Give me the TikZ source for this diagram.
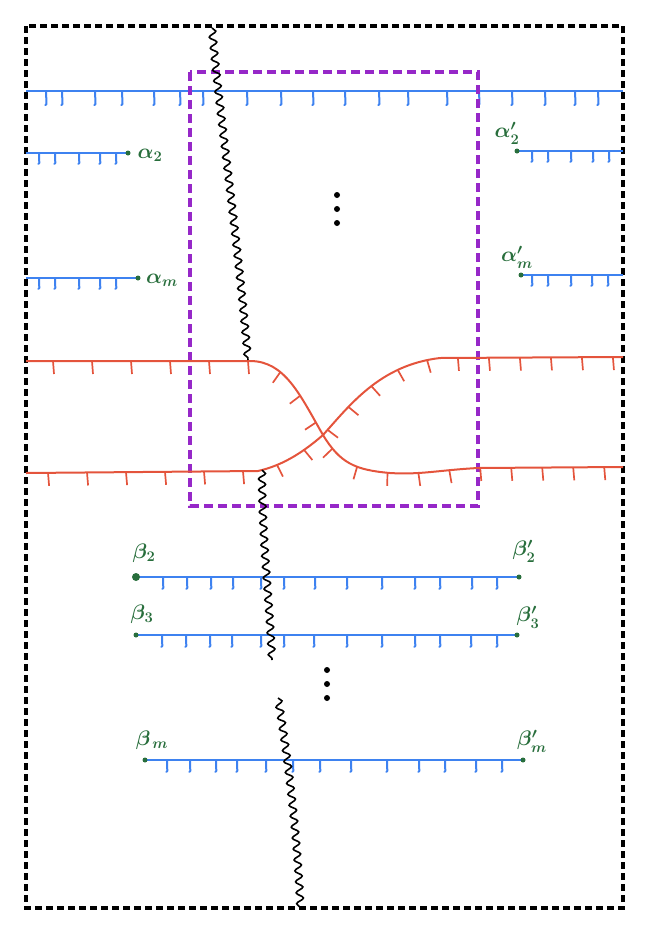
\RequirePackage{fix-cm}
\documentclass[tikz,border=0pt]{standalone}
\usetikzlibrary{decorations.pathmorphing,decorations.markings}
\definecolor{bl}{RGB}{62,130,240}
\definecolor{rd}{RGB}{228,84,60}
\definecolor{pu}{RGB}{150,40,200}
\definecolor{gr}{RGB}{40,110,60}
\begin{document}
\begin{tikzpicture}[x=1pt,y=-1pt,
  bline/.style={draw=bl,line width=2.4pt},
  btick/.style={draw=bl,line width=2pt,line cap=round,line join=round},
  rline/.style={draw=rd,line width=2pt},
  wave/.style={draw=black,line width=1.6pt,decorate,decoration={snake,segment length=11pt,amplitude=3.5pt}},
  lab/.style={text=gr,font=\fontsize{21}{25}\selectfont\boldmath,inner sep=1pt},
  gdot/.style={fill=gr,circle,inner sep=0pt,minimum size=5pt},
  vdot/.style={fill=black,circle,inner sep=0pt,minimum size=6pt},
  rticks/.style 2 args={postaction={decorate,decoration={markings,
     mark=between positions #1 and 222pt step 39pt with {\draw[rd,line width=1.7pt] (0pt,0pt) -- (1pt,-13pt);},
     mark=between positions #2 and -6pt step 31pt with {\draw[rd,line width=1.7pt] (0pt,0pt) -- (1pt,-13pt);}}}}
]
\useasboundingbox (0,0) rectangle (651,929);
% outer frame
\draw[line width=3.5pt,dash pattern=on 7pt off 4pt] (26,26) rectangle (623,908);
% top blue line
\draw[bline] (26,91) -- (623,91);
\foreach \x in {46,62,95,122,154,180,203,247,281,313,345,379,408,447,479,512,545,575,598}
  \draw[btick] (\x,91) -- ++(0.5,13) -- ++(-1.2,1.2);
% alpha lines
\draw[bline] (26,153) -- (128,153);
\foreach \x in {39,55,79,100,116} \draw[btick] (\x,153) -- ++(0.3,10) -- ++(-1,1);
\node[gdot] (a2d) at (128,153) {};
\node[lab] (a2) at (150,155) {$\alpha_2$};
\draw[bline] (26,278) -- (138,278);
\foreach \x in {39,55,79,100,116} \draw[btick] (\x,278) -- ++(0.3,10) -- ++(-1,1);
\node[gdot] (amd) at (138,278) {};
\node[lab] (am) at (162,280) {$\alpha_m$};
\draw[bline] (517,151) -- (623,151);
\foreach \x in {532,548,571,593,609} \draw[btick] (\x,151) -- ++(0.3,10) -- ++(-1,1);
\node[gdot] (a2pd) at (517,151) {};
\node[lab] (a2p) at (507,133) {$\alpha'_2$};
\draw[bline] (521,275) -- (623,275);
\foreach \x in {532,548,571,592,608} \draw[btick] (\x,275) -- ++(0.3,10) -- ++(-1,1);
\node[gdot] (ampd) at (521,275) {};
\node[lab] (amp) at (517,257) {$\alpha'_m$};
% purple box
\draw[pu,line width=3.5pt,dash pattern=on 9pt off 5pt] (190,72) rectangle (478,506);
% vertical dots
\node[vdot] (v1) at (337,195) {};
\node[vdot] (v2) at (337,209) {};
\node[vdot] (v3) at (337,223) {};
\node[vdot] (v4) at (327,670) {};
\node[vdot] (v5) at (327,684) {};
\node[vdot] (v6) at (327,698) {};
% red curves
\draw[rline,rticks={27pt}{257pt}] (26,361) -- (250,361) .. controls (285,361) and (300,395) .. (323,435)
  .. controls (340,463) and (355,470) .. (390,473) .. controls (420,475) and (440,470) .. (478,468) -- (623,467);
\draw[rline,rticks={22pt}{252pt}] (26,473) -- (258,471) .. controls (280,466) and (300,455) .. (323,435)
  .. controls (350,405) and (380,365) .. (440,358) -- (623,357);
% beta lines
\draw[bline] (136,577) -- (519,577);
\foreach \x in {163,187,211,233,261,284,315,347,382,415,440,472,497} \draw[btick] (\x,577) -- ++(0.3,11) -- ++(-1,1);
\node[gdot,minimum size=8pt] (b2d) at (136,577) {};
\node[gdot] (b2pd) at (519,577) {};
\node[lab] (b2) at (144,553) {$\beta_2$};
\node[lab] (b2p) at (524,551) {$\beta'_2$};
\draw[bline] (136,635) -- (517,635);
\foreach \x in {162,186,210,232,261,284,314,347,382,415,440,471,497} \draw[btick] (\x,635) -- ++(0.3,11) -- ++(-1,1);
\node[gdot] (b3d) at (136,635) {};
\node[gdot] (b3pd) at (517,635) {};
\node[lab] (b3) at (142,614) {$\beta_3$};
\node[lab] (b3p) at (528,617) {$\beta'_3$};
\draw[bline] (145,760) -- (523,760);
\foreach \x in {167,190,216,237,266,293,320,351,387,419,445,476,502} \draw[btick] (\x,760) -- ++(0.3,11) -- ++(-1,1);
\node[gdot] (bmd) at (145,760) {};
\node[gdot] (bmpd) at (523,760) {};
\node[lab] (bm) at (152,740) {$\beta_{\,m}$};
\node[lab] (bmp) at (532,741) {$\beta'_m$};
% wavy line
\draw[wave] (212,28) .. controls (220,120) and (236,220) .. (248,360);
\draw[wave] (262,470) .. controls (262,540) and (270,600) .. (272,660);
\draw[wave] (278,698) .. controls (290,770) and (298,850) .. (300,908);
\end{tikzpicture}
\end{document}
